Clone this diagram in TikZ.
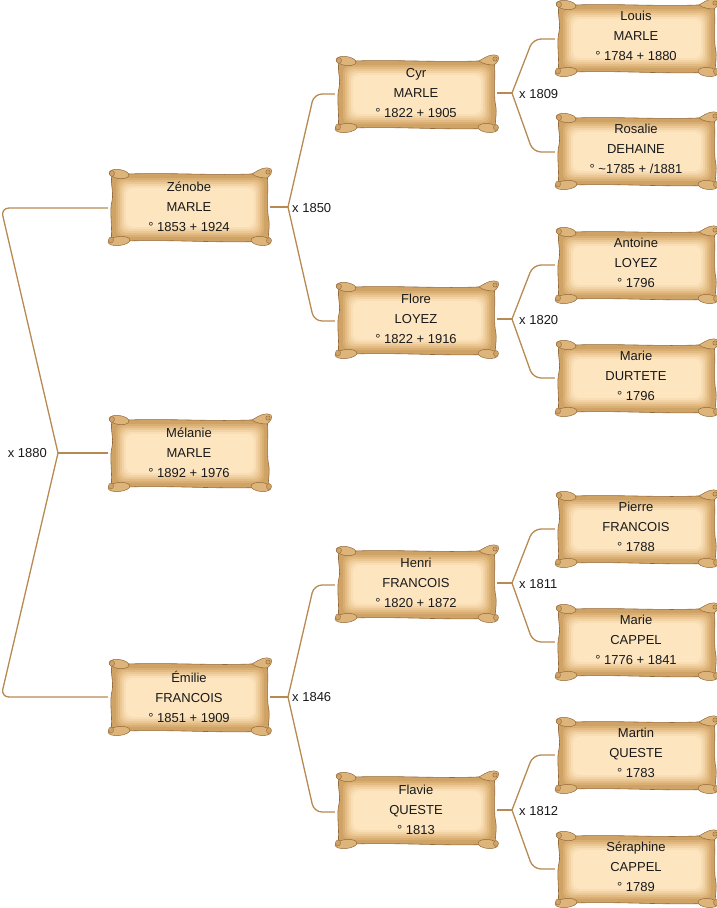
\documentclass[tikz,border=0pt]{standalone}
\usepackage{fontspec}
\setmainfont{Liberation Sans}
\definecolor{scrollin}{HTML}{FDE5BF}
\definecolor{scrollout}{HTML}{CFA266}
\definecolor{scrollline}{HTML}{94693A}
\definecolor{curlfill}{HTML}{DDB47A}
\definecolor{connc}{HTML}{B78A52}
\definecolor{sA}{HTML}{D9AE72}
\definecolor{sB}{HTML}{E2BA82}
\definecolor{sC}{HTML}{EBC794}
\definecolor{sD}{HTML}{F2D3A5}
\definecolor{sE}{HTML}{F9DDB4}
\definecolor{sF}{HTML}{FDE5C0}
\tikzset{
  scroll/.pic={
    \fill[scrollout, draw=scrollline, line width=0.6]
      (-77,-32) .. controls (-30,-36) and (30,-30) .. (78,-34)
      .. controls (80,-18) and (77,0) .. (80,14) .. controls (81,22) and (78,30) .. (80,34)
      .. controls (30,37) and (-30,31) .. (-78,35)
      .. controls (-76,20) and (-80,5) .. (-77,-6) .. controls (-75,-15) and (-79,-24) .. (-77,-32) -- cycle;
    \foreach \i/\c in {3/sA,5/sB,7/sC,9/sD,11/sE,13/sF}
      {\fill[fill=\c, rounded corners=7] (-76+\i,-32+\i) rectangle (78-\i,33-\i);}
    % top-left roll
    \draw[fill=curlfill, draw=scrollline, line width=0.5, rotate around={-8:(-70,-33)}] (-70,-33) ellipse [x radius=10, y radius=4.5];
    \draw[fill=scrollout, draw=scrollline, line width=0.4] (-77,-33.5) ellipse [x radius=2.5, y radius=3];
    % top-right curl
    \draw[fill=curlfill, draw=scrollline, line width=0.5]
      (63,-33) .. controls (71,-38) and (77,-41) .. (82,-38)
      .. controls (84,-35) and (81,-31) .. (78,-29) .. controls (73,-29) and (67,-30) .. (63,-33) -- cycle;
    \draw[fill=scrollout, draw=scrollline, line width=0.4] (79,-35) circle [radius=2.2];
    % bottom-left roll
    \draw[fill=curlfill, draw=scrollline, line width=0.5, rotate around={6:(-70,34)}] (-70,34) ellipse [x radius=11, y radius=4.5];
    \draw[fill=scrollout, draw=scrollline, line width=0.4] (-78,33) ellipse [x radius=2.5, y radius=3];
    % bottom-right roll
    \draw[fill=curlfill, draw=scrollline, line width=0.5, rotate around={-6:(72,34)}] (72,34) ellipse [x radius=10, y radius=4.5];
    \draw[fill=scrollout, draw=scrollline, line width=0.4] (80,33.5) ellipse [x radius=2.5, y radius=3];
  },
  person/.style={align=center, minimum width=162, minimum height=72, inner sep=0pt,
    font=\fontsize{13}{20}\selectfont, text=black!90},
  conn/.style={draw=connc, line width=1.3pt, rounded corners=8},
  marriage/.style={anchor=west, inner sep=0pt, font=\fontsize{13}{16}\selectfont, text=black!90},
  marriagel/.style={anchor=east, inner sep=0pt, font=\fontsize{13}{16}\selectfont, text=black!90}
}
\begin{document}
\begin{tikzpicture}[x=1pt,y=-1pt]
\useasboundingbox (0,0) rectangle (716,908);
% scrolls
\foreach \cx/\cy in {189/207,189/453,189/697,416/94,416/320,416/584,416/810,
  636/38,636/151,636/265,636/378,636/529,636/642,636/755,636/869}
  {\pic at (\cx,\cy) {scroll};}
% persons
\node[person] (zenobe) at (189,207) {Zénobe\\MARLE\\° 1853 + 1924};
\node[person] (melanie) at (189,453) {Mélanie\\MARLE\\° 1892 + 1976};
\node[person] (emilie) at (189,697) {Émilie\\FRANCOIS\\° 1851 + 1909};
\node[person] (cyr) at (416,93) {Cyr\\MARLE\\° 1822 + 1905};
\node[person] (flore) at (416,319) {Flore\\LOYEZ\\° 1822 + 1916};
\node[person] (henri) at (416,583) {Henri\\FRANCOIS\\° 1820 + 1872};
\node[person] (flavie) at (416,810) {Flavie\\QUESTE\\° 1813};
\node[person] (louis) at (636,36) {Louis\\MARLE\\° 1784 + 1880};
\node[person] (rosalie) at (636,149) {Rosalie\\DEHAINE\\° \textasciitilde1785 + /1881};
\node[person] (antoine) at (636,263) {Antoine\\LOYEZ\\° 1796};
\node[person] (marie1) at (636,376) {Marie\\DURTETE\\° 1796};
\node[person] (pierre) at (636,527) {Pierre\\FRANCOIS\\° 1788};
\node[person] (marie2) at (636,640) {Marie\\CAPPEL\\° 1776 + 1841};
\node[person] (martin) at (636,753) {Martin\\QUESTE\\° 1783};
\node[person] (seraphine) at (636,867) {Séraphine\\CAPPEL\\° 1789};
% junctions
\coordinate (j1) at (58,453);
\coordinate (j2) at (288,207);
\coordinate (j3) at (288,697);
\coordinate (j4) at (512,93);
\coordinate (j5) at (512,319);
\coordinate (j6) at (512,583);
\coordinate (j7) at (512,810);
% connectors
\draw[conn] (zenobe.west |- 0,208) -- (1,208) -- (j1);
\draw[conn] (j1) -- (1,697) -- (emilie.west);
\draw[conn] (j1) -- (melanie.west);
\draw[conn] (zenobe.east |- j2) -- (j2);
\draw[conn] (j2) -- (314,94) -- (cyr.west |- 0,94);
\draw[conn] (j2) -- (314,321) -- (flore.west |- 0,321);
\draw[conn] (emilie.east) -- (j3);
\draw[conn] (j3) -- (314,585) -- (henri.west |- 0,585);
\draw[conn] (j3) -- (314,812) -- (flavie.west |- 0,812);
\draw[conn] (cyr.east |- j4) -- (j4);
\draw[conn] (j4) -- (533,39) -- (louis.west |- 0,39);
\draw[conn] (j4) -- (533,152) -- (rosalie.west |- 0,152);
\draw[conn] (flore.east |- j5) -- (j5);
\draw[conn] (j5) -- (533,265) -- (antoine.west |- 0,265);
\draw[conn] (j5) -- (533,378) -- (marie1.west |- 0,378);
\draw[conn] (henri.east |- j6) -- (j6);
\draw[conn] (j6) -- (533,529) -- (pierre.west |- 0,529);
\draw[conn] (j6) -- (533,642) -- (marie2.west |- 0,642);
\draw[conn] (flavie.east |- j7) -- (j7);
\draw[conn] (j7) -- (533,755) -- (martin.west |- 0,755);
\draw[conn] (j7) -- (533,869) -- (seraphine.west |- 0,869);
% marriage labels
\node[marriagel] (m1880) at (47,453) {x 1880};
\node[marriage] (m1850) at (292,208) {x 1850};
\node[marriage] (m1846) at (292,697) {x 1846};
\node[marriage] (m1809) at (519,94) {x 1809};
\node[marriage] (m1820) at (519,320) {x 1820};
\node[marriage] (m1811) at (519,584) {x 1811};
\node[marriage] (m1812) at (519,811) {x 1812};
\end{tikzpicture}
\end{document}
